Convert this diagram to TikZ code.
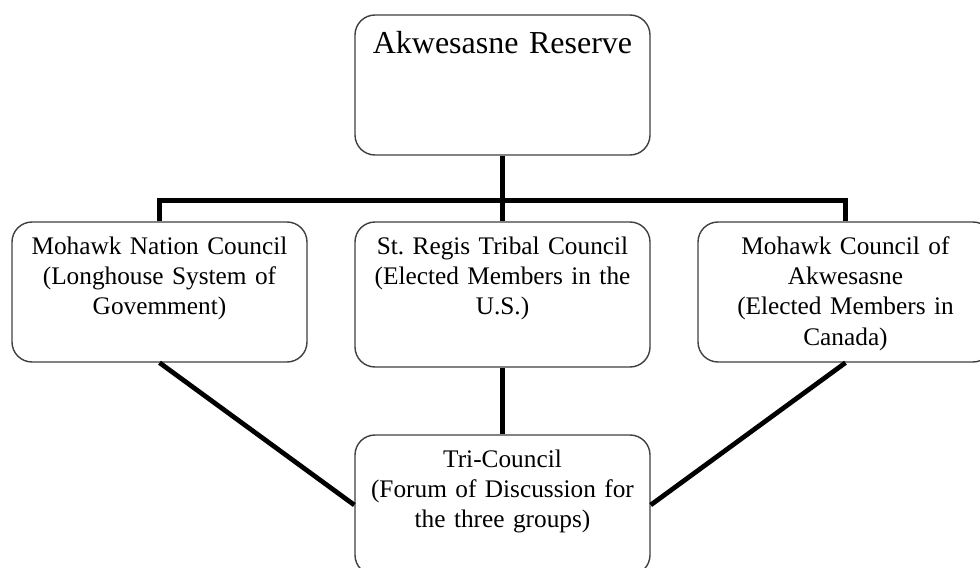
\documentclass[tikz,border=0pt]{standalone}
\usepackage{fontspec}
\setmainfont{Liberation Serif}
\frenchspacing
\begin{document}
\begin{tikzpicture}[
    box/.style={draw=black!75, line width=0.8pt, fill=white, rounded corners=0.4cm,
        minimum width=5.9cm, minimum height=2.8cm, inner sep=0pt},
    boxtext/.style={anchor=north, inner sep=0pt, text width=5.6cm, align=center,
        font=\fontsize{14.4}{17.2}\selectfont},
    link/.style={line width=2.7pt, line join=miter}]
        \useasboundingbox (0,0) rectangle (19.6,11.34);
        \clip (0,0) rectangle (19.6,11.34);
        % boxes
        \node[box] (reserve) at (10.05,9.64) {};
        \node[box] (mnc) at (3.19,5.5) {};
        \node[box, minimum height=2.9cm] (srtc) at (10.05,5.45) {};
        \node[box] (mca) at (16.91,5.5) {};
        \node[box] (tri) at (10.05,1.24) {};
        % texts
        \node[boxtext, yshift=-0.33cm, font=\fontsize{18.2}{21}\selectfont] (reserve-txt) at (reserve.north) {Akwesasne Reserve};
        \node[boxtext, yshift=-0.3cm] (mnc-txt) at (mnc.north) {Mohawk Nation Council\\(Longhouse System of\\Govemment)};
        \node[boxtext, yshift=-0.3cm] (srtc-txt) at (srtc.north) {St. Regis Tribal Council\\(Elected Members in the\\U.S.)};
        \node[boxtext, yshift=-0.3cm] (mca-txt) at (mca.north) {Mohawk Council of\\Akwesasne\\(Elected Members in\\Canada)};
        \node[boxtext, yshift=-0.3cm] (tri-txt) at (tri.north) {Tri-Council\\(Forum of Discussion for\\the three groups)};
        % links
        \draw[link] (reserve.south) -- ++(0,-0.9) coordinate (bar);
        \draw[link] (mnc.north) |- (bar) -| (mca.north);
        \draw[link] (bar) -- (srtc.north);
        \draw[link] (srtc.south) -- (tri.north);
        \draw[link] (mnc.south) -- (tri.west);
        \draw[link] (mca.south) -- (tri.east);
\end{tikzpicture}
\end{document}
